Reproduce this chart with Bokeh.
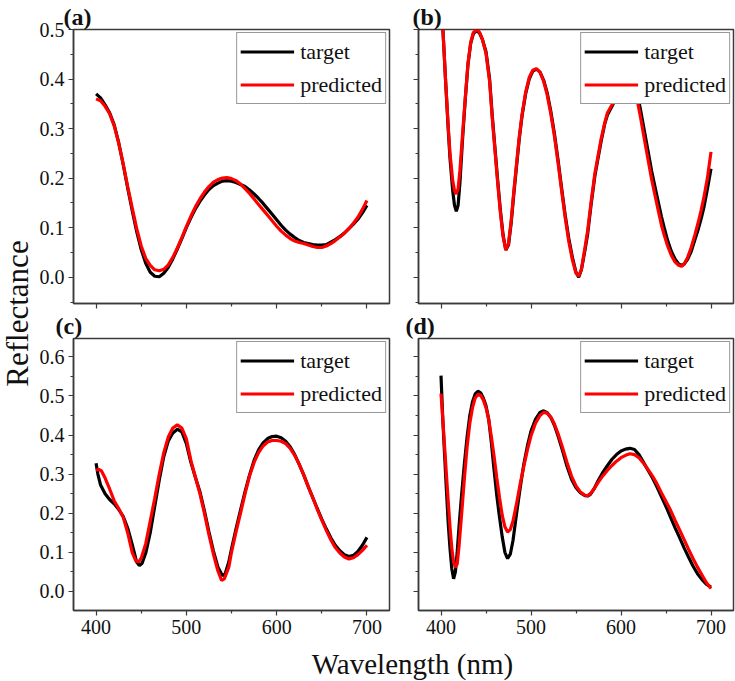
from bokeh.plotting import figure
from bokeh.models import (Range1d, FixedTicker, PrintfTickFormatter, CustomJSTickFormatter,
                          Legend, LegendItem)
from bokeh.layouts import row, column
from bokeh.embed import file_html
from bokeh.resources import INLINE
from bokeh.core.properties import value
import math

# ---------------- data ----------------
a_wl = [400, 405, 410, 415, 420, 425, 430, 435, 440, 445, 450, 455, 460, 465, 470, 475, 480, 485, 490, 495,
        500, 505, 510, 515, 520, 525, 530, 535, 540, 545, 550, 555, 560, 565, 570, 575, 580, 585, 590, 595,
        600, 605, 610, 615, 620, 625, 630, 635, 640, 645, 650, 655, 660, 665, 670, 675, 680, 685, 690, 695, 700]
a_target = [0.370, 0.362, 0.348, 0.332, 0.308, 0.272, 0.228, 0.180, 0.135, 0.092, 0.056, 0.028, 0.010, 0.002,
            0.001, 0.008, 0.020, 0.037, 0.057, 0.078, 0.100, 0.120, 0.138, 0.153, 0.166, 0.177, 0.185, 0.190,
            0.194, 0.195, 0.194, 0.191, 0.187, 0.183, 0.176, 0.168, 0.159, 0.149, 0.138, 0.127, 0.116, 0.105,
            0.095, 0.087, 0.080, 0.074, 0.070, 0.068, 0.066, 0.065, 0.065, 0.066, 0.071, 0.076, 0.082, 0.089,
            0.098, 0.107, 0.117, 0.130, 0.145]
a_predicted = [0.360, 0.356, 0.345, 0.330, 0.306, 0.271, 0.229, 0.183, 0.140, 0.098, 0.063, 0.038, 0.024, 0.015,
               0.013, 0.016, 0.025, 0.040, 0.059, 0.080, 0.102, 0.123, 0.142, 0.158, 0.172, 0.183, 0.192, 0.197,
               0.200, 0.201, 0.199, 0.195, 0.188, 0.179, 0.169, 0.158, 0.147, 0.136, 0.125, 0.114, 0.103, 0.093,
               0.085, 0.078, 0.073, 0.070, 0.068, 0.065, 0.062, 0.060, 0.060, 0.063, 0.068, 0.074, 0.081, 0.089,
               0.098, 0.109, 0.121, 0.137, 0.155]

b_wl = [400, 403, 405, 408, 410, 413, 415, 417, 419, 421, 424, 427, 430, 433, 436, 440, 443, 446, 450, 454,
        457, 460, 463, 466, 469, 472, 475, 478, 481, 484, 487, 490, 494, 498, 502, 506, 510, 514, 518, 522,
        526, 530, 534, 538, 542, 546, 550, 553, 556, 560, 563, 567, 571, 574, 578, 582, 585, 590, 594, 598,
        602, 606, 610, 614, 618, 622, 626, 630, 634, 637, 641, 645, 648, 652, 656, 660, 664, 667, 670, 674,
        678, 682, 686, 689, 692, 696, 700]
b_target = [0.570, 0.470, 0.400, 0.300, 0.240, 0.175, 0.145, 0.133, 0.145, 0.190, 0.280, 0.360, 0.430, 0.472,
            0.492, 0.498, 0.492, 0.480, 0.455, 0.400, 0.325, 0.260, 0.195, 0.135, 0.085, 0.055, 0.065, 0.110,
            0.170, 0.225, 0.280, 0.325, 0.370, 0.400, 0.416, 0.420, 0.414, 0.398, 0.372, 0.335, 0.290, 0.237,
            0.180, 0.125, 0.078, 0.040, 0.010, 0.000, 0.015, 0.055, 0.088, 0.150, 0.205, 0.235, 0.275, 0.310,
            0.328, 0.345, 0.360, 0.378, 0.394, 0.403, 0.401, 0.388, 0.372, 0.335, 0.295, 0.255, 0.215, 0.189,
            0.155, 0.122, 0.100, 0.073, 0.052, 0.037, 0.027, 0.024, 0.026, 0.036, 0.052, 0.075, 0.098, 0.118,
            0.140, 0.178, 0.219]
b_predicted = [0.570, 0.470, 0.400, 0.305, 0.250, 0.195, 0.175, 0.168, 0.178, 0.215, 0.290, 0.362, 0.432, 0.474,
               0.494, 0.500, 0.494, 0.480, 0.452, 0.395, 0.320, 0.255, 0.190, 0.130, 0.082, 0.055, 0.068, 0.115,
               0.175, 0.230, 0.284, 0.328, 0.373, 0.403, 0.418, 0.421, 0.414, 0.396, 0.368, 0.330, 0.285, 0.232,
               0.175, 0.120, 0.072, 0.035, 0.008, 0.002, 0.016, 0.060, 0.095, 0.155, 0.210, 0.240, 0.280, 0.312,
               0.332, 0.348, 0.362, 0.380, 0.395, 0.403, 0.398, 0.380, 0.358, 0.320, 0.278, 0.238, 0.198, 0.172,
               0.138, 0.105, 0.085, 0.062, 0.044, 0.031, 0.024, 0.022, 0.026, 0.040, 0.060, 0.085, 0.112, 0.135,
               0.160, 0.200, 0.253]

c_wl_target = [400, 402, 405, 410, 415, 420, 425, 430, 435, 440, 445, 448, 451, 455, 460, 465, 470, 475, 480, 485,
               490, 495, 500, 505, 510, 515, 520, 525, 530, 535, 540, 543, 547, 550, 555, 560, 565, 570, 575, 580,
               585, 590, 595, 600, 605, 610, 615, 620, 625, 630, 635, 640, 645, 650, 655, 660, 665, 670, 675, 680,
               685, 690, 695, 700]
c_target = [0.328, 0.300, 0.272, 0.250, 0.235, 0.224, 0.210, 0.192, 0.162, 0.120, 0.075, 0.066, 0.072, 0.098,
            0.150, 0.218, 0.285, 0.345, 0.385, 0.405, 0.415, 0.408, 0.378, 0.330, 0.292, 0.255, 0.206, 0.152,
            0.103, 0.062, 0.040, 0.045, 0.075, 0.108, 0.160, 0.208, 0.255, 0.298, 0.335, 0.362, 0.380, 0.391,
            0.396, 0.397, 0.393, 0.384, 0.370, 0.350, 0.325, 0.298, 0.268, 0.240, 0.212, 0.185, 0.160, 0.137,
            0.118, 0.104, 0.094, 0.089, 0.092, 0.102, 0.118, 0.138]
c_wl_predicted = [400, 403, 406, 410, 415, 420, 425, 430, 435, 440, 444, 447, 450, 455, 460, 465, 470, 475, 480,
                  485, 490, 495, 500, 505, 510, 515, 520, 525, 530, 535, 539, 542, 547, 550, 555, 560, 565, 570,
                  575, 580, 585, 590, 595, 600, 605, 610, 615, 620, 625, 630, 635, 640, 645, 650, 655, 660, 665,
                  670, 675, 680, 685, 690, 695, 700]
c_predicted = [0.310, 0.312, 0.308, 0.290, 0.262, 0.232, 0.212, 0.190, 0.150, 0.100, 0.078, 0.075, 0.085, 0.122,
               0.180, 0.238, 0.300, 0.355, 0.395, 0.418, 0.426, 0.418, 0.390, 0.335, 0.292, 0.250, 0.200, 0.145,
               0.095, 0.052, 0.028, 0.032, 0.062, 0.100, 0.152, 0.200, 0.250, 0.295, 0.330, 0.355, 0.372, 0.382,
               0.386, 0.386, 0.384, 0.378, 0.366, 0.348, 0.325, 0.298, 0.268, 0.240, 0.210, 0.182, 0.156, 0.132,
               0.112, 0.098, 0.088, 0.083, 0.086, 0.094, 0.105, 0.118]

d_wl = [400, 402, 404, 406, 408, 410, 412, 414, 416, 418, 420, 423, 426, 429, 432, 435, 438, 441, 444, 447,
        450, 453, 456, 459, 462, 465, 468, 471, 474, 477, 480, 484, 488, 492, 496, 500, 505, 510, 514, 518,
        522, 526, 530, 535, 540, 545, 550, 555, 560, 563, 566, 570, 575, 580, 585, 590, 595, 600, 605, 610,
        615, 620, 625, 630, 635, 640, 645, 650, 655, 660, 665, 670, 675, 680, 685, 690, 695, 700]
d_target = [0.552, 0.440, 0.350, 0.260, 0.175, 0.110, 0.058, 0.032, 0.050, 0.100, 0.165, 0.250, 0.327, 0.395,
            0.450, 0.485, 0.505, 0.512, 0.508, 0.495, 0.475, 0.440, 0.380, 0.310, 0.245, 0.190, 0.140, 0.100,
            0.084, 0.095, 0.130, 0.200, 0.265, 0.325, 0.372, 0.410, 0.440, 0.458, 0.462, 0.457, 0.445, 0.425,
            0.398, 0.360, 0.320, 0.287, 0.265, 0.252, 0.245, 0.244, 0.248, 0.262, 0.285, 0.305, 0.322, 0.338,
            0.350, 0.359, 0.364, 0.366, 0.363, 0.350, 0.330, 0.310, 0.290, 0.267, 0.242, 0.217, 0.190, 0.163,
            0.138, 0.112, 0.088, 0.065, 0.045, 0.030, 0.018, 0.011]
d_predicted = [0.506, 0.440, 0.370, 0.300, 0.230, 0.165, 0.110, 0.075, 0.062, 0.070, 0.115, 0.200, 0.290, 0.370,
               0.430, 0.470, 0.495, 0.504, 0.502, 0.490, 0.470, 0.440, 0.395, 0.345, 0.290, 0.240, 0.195, 0.165,
               0.152, 0.158, 0.180, 0.225, 0.275, 0.320, 0.362, 0.398, 0.430, 0.450, 0.458, 0.456, 0.446, 0.428,
               0.404, 0.368, 0.330, 0.295, 0.270, 0.254, 0.246, 0.245, 0.250, 0.262, 0.280, 0.296, 0.310, 0.322,
               0.333, 0.342, 0.348, 0.352, 0.350, 0.342, 0.328, 0.312, 0.295, 0.275, 0.252, 0.230, 0.208, 0.182,
               0.158, 0.133, 0.108, 0.084, 0.062, 0.042, 0.022, 0.007]

x_ticks = [400, 500, 600, 700]
x_minor_ticks = [450, 550, 650]
y_ticks_top = [0.0, 0.1, 0.2, 0.3, 0.4, 0.5]
y_minor_top = [-0.05, 0.05, 0.15, 0.25, 0.35, 0.45]
y_ticks_bottom = [0.0, 0.1, 0.2, 0.3, 0.4, 0.5, 0.6]
y_minor_bottom = [0.05, 0.15, 0.25, 0.35, 0.45, 0.55]

series_names = ["target", "predicted"]
panel_tags = ["(a)", "(b)", "(c)", "(d)"]
x_title = "Wavelength (nm)"
y_title = "Reflectance"

# ---------------- styling ----------------
FONT = "Liberation Serif"
AX = "#3a3a3a"
TXT = "#111111"
XLO, XHI = 375, 725


def make_panel(tag, tag_offset, wl_t, r_t, wl_p, r_p, ylo, yhi, yt, ym, w, h, mb, show_x, show_y):
    p = figure(width=w, height=h, x_range=Range1d(XLO, XHI), y_range=Range1d(ylo, yhi),
               output_backend="svg", toolbar_location=None, title=tag,
               min_border_left=mb[0], min_border_right=mb[1], min_border_top=mb[2], min_border_bottom=mb[3])
    p.title.text_font = FONT
    p.title.text_font_size = "24px"
    p.title.text_font_style = "bold"
    p.title.text_color = TXT
    p.title.align = "left"
    p.title.offset = tag_offset
    p.title.standoff = 0

    p.xgrid.visible = False
    p.ygrid.visible = False
    p.outline_line_color = AX
    p.outline_line_width = 1.5
    p.background_fill_color = "white"
    p.border_fill_color = "white"

    p.xaxis.ticker = FixedTicker(ticks=x_ticks, minor_ticks=x_minor_ticks)
    p.yaxis.ticker = FixedTicker(ticks=yt, minor_ticks=ym)
    p.yaxis.formatter = PrintfTickFormatter(format="%.1f")
    p.axis.axis_line_color = AX
    p.axis.axis_line_width = 1.5
    p.axis.major_tick_line_color = AX
    p.axis.minor_tick_line_color = AX
    p.axis.major_tick_line_width = 1.2
    p.axis.minor_tick_line_width = 1.2
    p.axis.major_tick_in = 0
    p.axis.major_tick_out = 5
    p.axis.minor_tick_in = 0
    p.axis.minor_tick_out = 3
    p.axis.major_label_text_font = FONT
    p.axis.major_label_text_font_size = "20px"
    p.axis.major_label_text_color = TXT
    p.axis.major_label_standoff = 4
    if not show_x:
        p.xaxis.formatter = CustomJSTickFormatter(code="return ''")
        p.xaxis.major_label_text_font_size = "0px"
        p.xaxis.major_label_standoff = 0
    if not show_y:
        p.yaxis.formatter = CustomJSTickFormatter(code="return ''")
        p.yaxis.major_label_text_font_size = "0px"
        p.yaxis.major_label_standoff = 0

    l1 = p.line(wl_t, r_t, line_color="black", line_width=3.2)
    l2 = p.line(wl_p, r_p, line_color="#ff0000", line_width=3.2)

    leg = Legend(items=[LegendItem(label=series_names[0], renderers=[l1]),
                        LegendItem(label=series_names[1], renderers=[l2])],
                 location="top_right")
    leg.border_line_color = "#333333"
    leg.border_line_width = 1.5
    leg.background_fill_color = "white"
    leg.background_fill_alpha = 1.0
    leg.label_text_font = FONT
    leg.label_text_font_size = "22px"
    leg.label_text_color = TXT
    leg.glyph_width = 54
    leg.glyph_height = 31
    leg.label_height = 31
    leg.label_standoff = 6
    leg.spacing = 2
    leg.padding = 3
    leg.margin = 3
    p.add_layout(leg)
    return p


def text_fig(w, h):
    f = figure(width=w, height=h, x_range=Range1d(0, w), y_range=Range1d(0, h),
               x_axis_location=None, y_axis_location=None, output_backend="svg",
               toolbar_location=None, min_border=0, min_border_left=0, min_border_right=0,
               min_border_top=0, min_border_bottom=0)
    f.outline_line_color = None
    f.background_fill_color = "white"
    f.border_fill_color = "white"
    f.grid.visible = False
    return f


def put_text(f, x, y, txt, size, angle=0.0, align="center"):
    f.text(x=[x], y=[y], text=[txt], angle=angle, text_font=value(FONT),
           text_font_size=value(size), text_color=TXT, text_align=align, text_baseline="alphabetic")


TOP_LO, TOP_HI = -0.053, 0.5
BOT_LO, BOT_HI = -0.049, 0.647

# column (page x offset 36): top panels 0..309 (frame 29..303),
# bottom panels 309..645 (frame 338..610), x title 645..681
pa = make_panel(panel_tags[0], -10, a_wl, a_target, a_wl, a_predicted, TOP_LO, TOP_HI,
                y_ticks_top, y_minor_top, 369, 309, (37, 16, 29, 6), False, True)
pb = make_panel(panel_tags[1], -6, b_wl, b_target, b_wl, b_predicted, TOP_LO, TOP_HI,
                y_ticks_top, y_minor_top, 330, 309, (13, 2, 29, 6), False, False)
pc = make_panel(panel_tags[2], -18, c_wl_target, c_target, c_wl_predicted, c_predicted, BOT_LO, BOT_HI,
                y_ticks_bottom, y_minor_bottom, 369, 336, (37, 16, 29, 35), True, True)
pd = make_panel(panel_tags[3], -13, d_wl, d_target, d_wl, d_predicted, BOT_LO, BOT_HI,
                y_ticks_bottom, y_minor_bottom, 330, 336, (13, 2, 29, 35), True, False)

ylab = text_fig(36, 681)
put_text(ylab, 17, 681 - 313, y_title, "31px", angle=math.pi / 2)

xlab = text_fig(699, 36)
put_text(xlab, 376, 18, x_title, "29px")

layout = row(ylab, column(row(pa, pb), row(pc, pd), xlab))

open("out.html", "w").write(file_html(layout, INLINE))
